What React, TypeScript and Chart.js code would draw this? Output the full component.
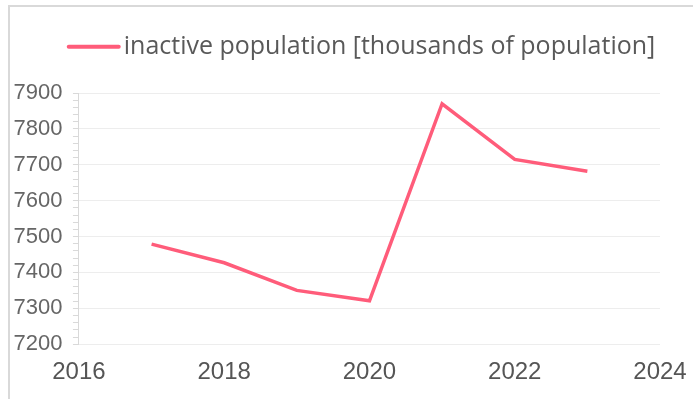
import React, { useEffect, useRef } from 'react';
import { Chart, registerables } from 'chart.js';

Chart.register(...registerables);

// ---- data ----
const years = [2017, 2018, 2019, 2020, 2021, 2022, 2023];
const inactivePopulation = [7479, 7427, 7350, 7321, 7870, 7715, 7682];
const seriesLabel = 'inactive population [thousands of population]';
const xMin = 2016;
const xMax = 2024;
const xStep = 2;
const yMin = 7200;
const yMax = 7900;
const yMajorStep = 100;
const yMinorStep = 20;

const lineColor = 'rgb(255, 92, 122)';

const lineLegend = {
  id: 'lineLegend',
  afterDraw(chart: any) {
    const ctx = chart.ctx;
    const ds = chart.data.datasets[0];
    ctx.save();
    ctx.font = '25px "Open Sans"';
    const tw = ctx.measureText(ds.label).width;
    const lineW = 54;
    const gap = 3;
    const total = lineW + gap + tw;
    const x0 = chart.width / 2 - total / 2;
    const yLine = 46.7;
    ctx.strokeStyle = ds.borderColor;
    ctx.lineWidth = 4;
    ctx.lineCap = 'round';
    ctx.beginPath();
    ctx.moveTo(x0 + 2, yLine);
    ctx.lineTo(x0 + lineW - 2, yLine);
    ctx.stroke();
    ctx.fillStyle = '#595959';
    ctx.textBaseline = 'alphabetic';
    ctx.textAlign = 'left';
    ctx.fillText(ds.label, x0 + lineW + gap, 53.5);
    ctx.restore();
  },
};

export default function App() {
  const ref = useRef<HTMLCanvasElement | null>(null);

  useEffect(() => {
    if (!ref.current) return;
    const chart = new Chart(ref.current, {
      type: 'line',
      data: {
        datasets: [
          {
            label: seriesLabel,
            data: years.map((y, i) => ({ x: y, y: inactivePopulation[i] })),
            borderColor: lineColor,
            backgroundColor: lineColor,
            borderWidth: 3.5,
            pointRadius: 0,
            tension: 0,
          },
        ],
      },
      options: {
        responsive: false,
        animation: false,
        layout: { padding: { top: 93, left: 3, right: 62, bottom: 9 } },
        plugins: {
          legend: { display: false },
          tooltip: { enabled: false },
        },
        scales: {
          x: {
            type: 'linear',
            min: xMin,
            max: xMax,
            grid: { display: false, drawTicks: false },
            border: { display: false },
            ticks: {
              stepSize: xStep,
              padding: 14,
              color: '#555555',
              font: { family: '"Liberation Sans", Arial, sans-serif', size: 24 },
              callback: (v: any) => String(v),
            },
          },
          y: {
            type: 'linear',
            min: yMin,
            max: yMax,
            grid: {
              color: (c: any) =>
                c.tick && c.tick.value % yMajorStep === 0 ? 'rgba(0,0,0,0.07)' : 'rgba(0,0,0,0)',
              tickColor: '#d9d9d9',
              tickLength: 6,
              drawTicks: true,
            },
            border: { display: true, color: '#d9d9d9', width: 1 },
            ticks: {
              stepSize: yMinorStep,
              autoSkip: false,
              maxTicksLimit: 1000,
              padding: 10.5,
              color: '#666666',
              font: { family: '"Liberation Sans", Arial, sans-serif', size: 22 },
              callback: (v: any) => (Number(v) % yMajorStep === 0 ? String(v) : ''),
            },
          },
        },
      },
      plugins: [lineLegend],
    });
    return () => chart.destroy();
  }, []);

  return (
    <div
      style={{
        position: 'fixed',
        left: 0,
        top: 0,
        width: 693,
        height: 399,
        overflow: 'hidden',
        background: '#ffffff',
      }}
    >
      <div
        style={{
          position: 'absolute',
          left: 8,
          top: 5,
          width: 720,
          height: 420,
          border: '2px solid #d9d9d9',
          boxSizing: 'border-box',
        }}
      />
      <canvas
        ref={ref}
        width={722}
        height={410}
        style={{ position: 'absolute', left: 0, top: 0, width: 722, height: 410 }}
      />
    </div>
  );
}
